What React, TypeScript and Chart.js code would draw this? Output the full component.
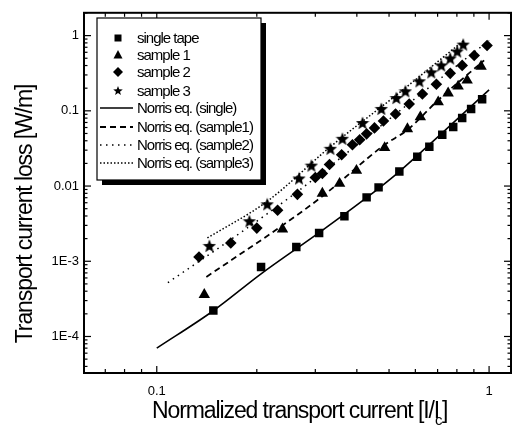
import React, { useEffect, useRef } from "react";
import { Chart, registerables } from "chart.js";

Chart.register(...registerables);

// ---- measured data ----
const singleX = [0.148, 0.206, 0.263, 0.308, 0.367, 0.428, 0.465, 0.537, 0.608, 0.661, 0.723, 0.78, 0.83, 0.883, 0.953];
const singleY = [2.22e-4, 8.4e-4, 1.55e-3, 2.37e-3, 3.98e-3, 7.07e-3, 9.6e-3, 0.0156, 0.0246, 0.0333, 0.048, 0.061, 0.08, 0.106, 0.143];

const s1X = [0.139, 0.239, 0.315, 0.355, 0.399, 0.485, 0.568, 0.621, 0.703, 0.753, 0.807, 0.859, 0.946];
const s1Y = [3.6e-4, 2.67e-3, 7.98e-3, 0.0108, 0.0161, 0.0323, 0.0575, 0.0828, 0.131, 0.172, 0.212, 0.255, 0.39];

const s2X = [0.134, 0.167, 0.2, 0.231, 0.265, 0.3, 0.315, 0.331, 0.36, 0.388, 0.408, 0.428, 0.452, 0.481, 0.523, 0.575, 0.63, 0.694, 0.764, 0.83, 0.902, 0.986];
const s2Y = [1.14e-3, 1.75e-3, 2.76e-3, 4.77e-3, 7.75e-3, 0.013, 0.0147, 0.0193, 0.0261, 0.0354, 0.0412, 0.0494, 0.0593, 0.0733, 0.0908, 0.123, 0.167, 0.226, 0.315, 0.402, 0.545, 0.738];

const s3X = [0.144, 0.19, 0.215, 0.268, 0.292, 0.333, 0.362, 0.416, 0.474, 0.526, 0.56, 0.617, 0.67, 0.718, 0.764, 0.802, 0.836];
const s3Y = [1.6e-3, 3.41e-3, 5.72e-3, 0.0126, 0.0187, 0.0313, 0.0425, 0.069, 0.106, 0.148, 0.182, 0.247, 0.325, 0.402, 0.497, 0.615, 0.76];

const nSingleX = [0.1, 0.148, 0.206, 0.308, 0.428, 0.537, 0.723, 1.0];
const nSingleY = [7e-5, 2.2e-4, 6.8e-4, 2.4e-3, 7.0e-3, 0.0156, 0.051, 0.19];

const n1X = [0.141, 0.239, 0.315, 0.485, 0.568, 0.703, 0.966];
const n1Y = [6.2e-4, 3.0e-3, 7.3e-3, 0.0354, 0.0558, 0.139, 0.468];

const n2X = [0.108, 0.168, 0.268, 0.437, 0.661, 1.0];
const n2Y = [5.2e-4, 1.98e-3, 8.75e-3, 0.048, 0.206, 0.86];

const n3X = [0.142, 0.215, 0.333, 0.526, 0.839];
const n3Y = [2.04e-3, 6.27e-3, 0.0333, 0.162, 0.86];

const xTickValues = [0.1, 1];
const xTickLabels = ["0.1", "1"];
const yTickValues = [1e-4, 1e-3, 0.01, 0.1, 1];
const yTickLabels = ["1E-4", "1E-3", "0.01", "0.1", "1"];

const labels = [
  "single tape",
  "sample 1",
  "sample 2",
  "sample 3",
  "Norris eq. (single)",
  "Norris eq. (sample1)",
  "Norris eq. (sample2)",
  "Norris eq. (sample3)",
];

const xTitle = "Normalized transport current [I/I";
const xTitleSub = "c";
const yTitle = "Transport current loss [W/m]";

const X_MIN = 0.0604;
const X_MAX = 1.164;
const Y_MIN = 3.27e-5;
const Y_MAX = 2.01;

const FONT = "'Liberation Sans', Arial, sans-serif";

function zip(xs: number[], ys: number[]) {
  return xs.map((x, i) => ({ x, y: ys[i] }));
}

function starPath(ctx: CanvasRenderingContext2D, cx: number, cy: number, ro: number, ri: number) {
  ctx.beginPath();
  for (let i = 0; i < 10; i++) {
    const r = i % 2 === 0 ? ro : ri;
    const a = -Math.PI / 2 + (i * Math.PI) / 5;
    const px = cx + r * Math.cos(a);
    const py = cy + r * Math.sin(a);
    if (i === 0) ctx.moveTo(px, py);
    else ctx.lineTo(px, py);
  }
  ctx.closePath();
}

function makeStar(): HTMLCanvasElement {
  const c = document.createElement("canvas");
  c.width = 14;
  c.height = 14;
  const ctx = c.getContext("2d")!;
  ctx.fillStyle = "#000";
  starPath(ctx, 7, 7.5, 7, 3);
  ctx.fill();
  return c;
}

function drawLegendMarker(ctx: CanvasRenderingContext2D, kind: string, x: number, y: number) {
  ctx.fillStyle = "#000";
  ctx.beginPath();
  if (kind === "rect") {
    ctx.rect(x - 3.5, y - 3.5, 7, 7);
    ctx.fill();
  } else if (kind === "triangle") {
    ctx.moveTo(x, y - 5);
    ctx.lineTo(x + 4.5, y + 3.5);
    ctx.lineTo(x - 4.5, y + 3.5);
    ctx.closePath();
    ctx.fill();
  } else if (kind === "rectRot") {
    ctx.moveTo(x, y - 5);
    ctx.lineTo(x + 5, y);
    ctx.lineTo(x, y + 5);
    ctx.lineTo(x - 5, y);
    ctx.closePath();
    ctx.fill();
  } else if (kind === "star") {
    starPath(ctx, x, y, 5, 2.1);
    ctx.fill();
  }
}

const framePlugin = {
  id: "frameTicks",
  afterDraw(chart: any) {
    const ctx: CanvasRenderingContext2D = chart.ctx;
    const { left, right, top, bottom } = chart.chartArea;
    const xs = chart.scales.x;
    const ys = chart.scales.y;
    ctx.save();
    ctx.strokeStyle = "#000";
    ctx.lineWidth = 1.2;
    const xMinor: number[] = [];
    const yMinor: number[] = [];
    for (let d = -2; d <= 0; d++) {
      for (let m = 2; m <= 9; m++) {
        const v = m * Math.pow(10, d);
        if (v > X_MIN && v < X_MAX) xMinor.push(v);
      }
    }
    for (let d = -5; d <= 0; d++) {
      for (let m = 2; m <= 9; m++) {
        const v = m * Math.pow(10, d);
        if (v > Y_MIN && v < Y_MAX) yMinor.push(v);
      }
    }
    const tick = (x1: number, y1: number, x2: number, y2: number) => {
      ctx.beginPath();
      ctx.moveTo(x1, y1);
      ctx.lineTo(x2, y2);
      ctx.stroke();
    };
    xTickValues.forEach((v) => {
      const px = xs.getPixelForValue(v);
      tick(px, bottom, px, bottom - 7);
      tick(px, top, px, top + 7);
    });
    xMinor.forEach((v) => {
      const px = xs.getPixelForValue(v);
      tick(px, bottom, px, bottom - 4);
      tick(px, top, px, top + 4);
    });
    yTickValues.forEach((v) => {
      const py = ys.getPixelForValue(v);
      tick(left, py, left + 7, py);
      tick(right, py, right - 7, py);
    });
    yMinor.forEach((v) => {
      const py = ys.getPixelForValue(v);
      tick(left, py, left + 3.5, py);
      tick(right, py, right - 3.5, py);
    });
    ctx.lineWidth = 2;
    ctx.strokeRect(left, top, right - left, bottom - top);

    // axis titles
    ctx.fillStyle = "#000";
    ctx.font = `23px ${FONT}`;
    (ctx as any).letterSpacing = "-1.1px";
    ctx.textAlign = "left";
    ctx.textBaseline = "alphabetic";
    const tx = 152;
    const ty = 418;
    ctx.fillText(xTitle, tx, ty);
    const w = ctx.measureText(xTitle).width;
    ctx.font = `15px ${FONT}`;
    ctx.fillText(xTitleSub, tx + w - 4, ty + 7);
    ctx.font = `23px ${FONT}`;
    ctx.fillText("]", tx + w + 3, ty);

    ctx.save();
    ctx.translate(32, 214);
    ctx.rotate(-Math.PI / 2);
    ctx.textAlign = "center";
    ctx.fillText(yTitle, 0, 0);
    ctx.restore();

    // legend
    const bx = 97, by = 18, bw = 164, bh = 162;
    (ctx as any).letterSpacing = "0px";
    ctx.fillStyle = "#000";
    ctx.fillRect(bx + 5, by + 5, bw, bh);
    ctx.fillStyle = "#fff";
    ctx.fillRect(bx, by, bw, bh);
    ctx.lineWidth = 1.2;
    ctx.strokeRect(bx, by, bw, bh);
    const rows = [38, 55, 72, 91, 108, 127, 145, 163];
    const ds = chart.data.datasets;
    ctx.font = `15px ${FONT}`;
    ctx.textBaseline = "middle";
    ctx.textAlign = "left";
    ds.forEach((d: any, i: number) => {
      const ry = rows[i];
      if (d.showLine === false) {
        drawLegendMarker(ctx, d.legendMarker, 118, ry);
      } else {
        ctx.save();
        ctx.strokeStyle = "#000";
        ctx.lineWidth = d.borderWidth;
        ctx.setLineDash(d.borderDash || []);
        ctx.beginPath();
        ctx.moveTo(100, ry);
        ctx.lineTo(133, ry);
        ctx.stroke();
        ctx.restore();
      }
      ctx.fillStyle = "#000";
      (ctx as any).letterSpacing = "-1px";
      ctx.fillText(d.label, 137, ry + 1);
      (ctx as any).letterSpacing = "0px";
    });
    ctx.restore();
  },
};

export default function App() {
  const ref = useRef<HTMLCanvasElement | null>(null);
  useEffect(() => {
    if (!ref.current) return;
    const star = makeStar();
    const markerBase = {
      showLine: false,
      backgroundColor: "#000",
      borderColor: "#000",
      pointBorderWidth: 0,
    };
    const lineBase = {
      showLine: true,
      pointRadius: 0,
      borderColor: "#000",
      backgroundColor: "#000",
      fill: false,
      cubicInterpolationMode: "monotone" as const,
    };
    const chart = new Chart(ref.current, {
      type: "scatter",
      data: {
        datasets: [
          { ...markerBase, label: labels[0], data: zip(singleX, singleY), pointStyle: "rect", pointRadius: 6, legendMarker: "rect" } as any,
          { ...markerBase, label: labels[1], data: zip(s1X, s1Y), pointStyle: "triangle", pointRadius: 6.6, legendMarker: "triangle" } as any,
          { ...markerBase, label: labels[2], data: zip(s2X, s2Y), pointStyle: "rectRot", pointRadius: 5.8, legendMarker: "rectRot" } as any,
          { ...markerBase, label: labels[3], data: zip(s3X, s3Y), pointStyle: star, pointRadius: 7, legendMarker: "star" } as any,
          { ...lineBase, label: labels[4], data: zip(nSingleX, nSingleY), borderWidth: 1.6, borderDash: [] } as any,
          { ...lineBase, label: labels[5], data: zip(n1X, n1Y), borderWidth: 1.8, borderDash: [6, 4] } as any,
          { ...lineBase, label: labels[6], data: zip(n2X, n2Y), borderWidth: 1.5, borderDash: [1.5, 4.5] } as any,
          { ...lineBase, label: labels[7], data: zip(n3X, n3Y), borderWidth: 1.5, borderDash: [1.5, 2] } as any,
        ],
      },
      options: {
        animation: false,
        responsive: false,
        devicePixelRatio: 1,
        layout: { padding: { left: 0, top: 10, right: 6, bottom: 0 } },
        plugins: { legend: { display: false }, tooltip: { enabled: false } },
        scales: {
          x: {
            type: "logarithmic",
            min: X_MIN,
            max: X_MAX,
            grid: { display: false, drawTicks: false },
            border: { display: false },
            title: { display: false },
            afterBuildTicks: (s: any) => {
              s.ticks = xTickValues.map((v) => ({ value: v }));
            },
            afterFit: (s: any) => {
              s.height = 55;
            },
            ticks: {
              autoSkip: false,
              maxRotation: 0,
              padding: 11,
              color: "#000",
              font: { family: FONT, size: 13 },
              callback: (v: any) => {
                const i = xTickValues.findIndex((t) => Math.abs(t - Number(v)) < 1e-9);
                return i >= 0 ? xTickLabels[i] : "";
              },
            },
          },
          y: {
            type: "logarithmic",
            min: Y_MIN,
            max: Y_MAX,
            grid: { display: false, drawTicks: false },
            border: { display: false },
            title: { display: false },
            afterBuildTicks: (s: any) => {
              s.ticks = yTickValues.map((v) => ({ value: v }));
            },
            afterFit: (s: any) => {
              s.width = 84;
            },
            ticks: {
              autoSkip: false,
              padding: 5,
              color: "#000",
              font: { family: FONT, size: 13 },
              callback: (v: any) => {
                const i = yTickValues.findIndex((t) => Math.abs(t - Number(v)) / t < 1e-6);
                return i >= 0 ? yTickLabels[i] : "";
              },
            },
          },
        },
      },
      plugins: [framePlugin],
    });
    return () => chart.destroy();
  }, []);
  return (
    <canvas
      ref={ref}
      width={518}
      height={428}
      style={{ position: "absolute", left: 0, top: 0, width: 518, height: 428 }}
    />
  );
}
